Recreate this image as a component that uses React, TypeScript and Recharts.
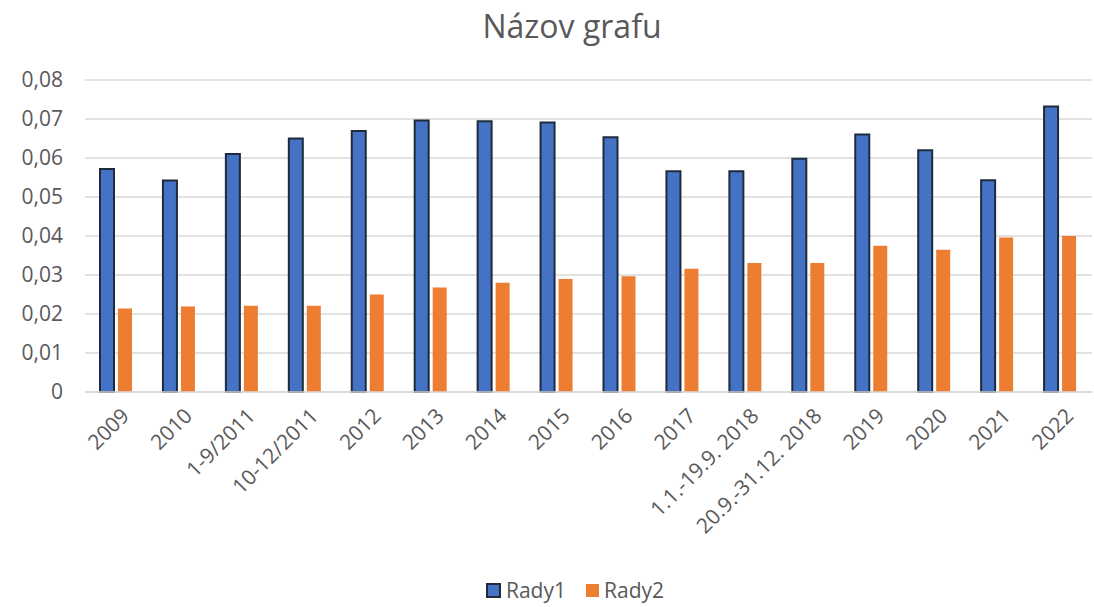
import { BarChart, Bar, XAxis, YAxis, CartesianGrid } from 'recharts';

const categories = [
  '2009', '2010', '1-9/2011', '10-12/2011', '2012', '2013', '2014', '2015',
  '2016', '2017', '1.1.-19.9. 2018', '20.9.-31.12. 2018', '2019', '2020', '2021', '2022',
];
const rady1 = [
  0.0572, 0.0542, 0.061, 0.065, 0.0669, 0.0696, 0.0694, 0.0691,
  0.0653, 0.0566, 0.0566, 0.0598, 0.066, 0.062, 0.0543, 0.0732,
];
const rady2 = [
  0.0214, 0.0219, 0.0221, 0.0221, 0.025, 0.0268, 0.028, 0.029,
  0.0297, 0.0316, 0.0331, 0.0331, 0.0375, 0.0365, 0.0396, 0.04,
];
const yTicks = [0, 0.01, 0.02, 0.03, 0.04, 0.05, 0.06, 0.07, 0.08];

const data = categories.map((name, i) => ({ name, rady1: rady1[i], rady2: rady2[i] }));

const FONT = '"Open Sans", sans-serif';
const TEXT = '#595959';

const fmt = (v: number) => (v === 0 ? '0' : v.toFixed(2).replace('.', ','));

function XTick({ x, y, payload }: any) {
  return (
    <g transform={`translate(${x + 3},${y + 6})`}>
      <text
        x={0}
        y={0}
        dy="0.75em"
        textAnchor="end"
        transform="rotate(-45)"
        fill={TEXT}
        fontSize={21}
        fontFamily={FONT}
      >
        {payload.value}
      </text>
    </g>
  );
}

export default function App() {
  return (
    <div style={{ position: 'absolute', left: 0, top: 0, width: 1094, height: 607, background: '#fff' }}>
      <div
        style={{
          position: 'absolute',
          top: 4,
          left: 50,
          width: 1044,
          textAlign: 'center',
          fontFamily: FONT,
          fontSize: 32,
          color: TEXT,
        }}
      >
        Názov grafu
      </div>
      <BarChart
        width={1094}
        height={607}
        data={data}
        margin={{ top: 80, right: 2, left: 0, bottom: 0 }}
        barSize={14}
        barGap={4}
      >
        <CartesianGrid vertical={false} stroke="#D9D9D9" strokeWidth={1.5} />
        <XAxis
          dataKey="name"
          interval={0}
          height={215}
          tickLine={false}
          axisLine={{ stroke: '#D9D9D9', strokeWidth: 1.5 }}
          tick={<XTick />}
        />
        <YAxis
          width={85}
          domain={[0, 0.08]}
          ticks={yTicks}
          tickFormatter={fmt}
          tickLine={false}
          axisLine={false}
          tickMargin={16}
          tick={{ fill: TEXT, fontSize: 21, fontFamily: FONT }}
        />
        <Bar dataKey="rady1" name="Rady1" fill="#4472C4" stroke="#1F2B3D" strokeWidth={2} isAnimationActive={false} />
        <Bar dataKey="rady2" name="Rady2" fill="#ED7D31" isAnimationActive={false} />
      </BarChart>
      <div
        style={{
          position: 'absolute',
          top: 576,
          left: 56,
          width: 1038,
          display: 'flex',
          justifyContent: 'center',
          alignItems: 'center',
          fontFamily: FONT,
          fontSize: 21,
          color: TEXT,
          gap: 20,
        }}
      >
        <span style={{ display: 'flex', alignItems: 'center' }}>
          <span style={{ width: 11, height: 11, background: '#4472C4', border: '2px solid #1F2B3D', marginRight: 5 }} />
          Rady1
        </span>
        <span style={{ display: 'flex', alignItems: 'center' }}>
          <span style={{ width: 13, height: 13, background: '#ED7D31', marginRight: 5 }} />
          Rady2
        </span>
      </div>
    </div>
  );
}
